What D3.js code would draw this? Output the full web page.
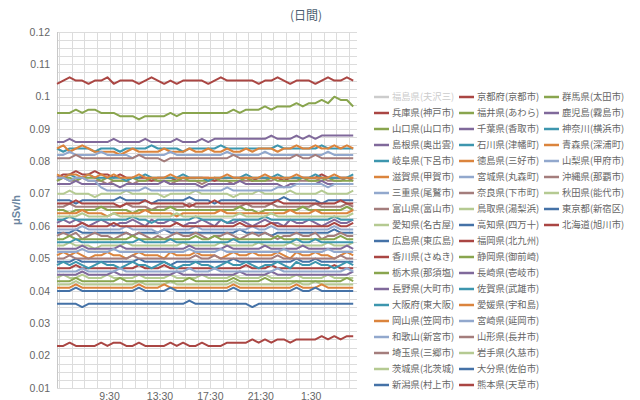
<!DOCTYPE html>
<html><head><meta charset="utf-8">
<script src="https://cdn.jsdelivr.net/npm/d3@7"></script>
<style>body{margin:0;background:#fff;}svg{display:block;}</style>
</head><body>
<svg id="chart" width="640" height="400"></svg>
<script>
// ---- text ----
const chartTitle = "(日間)";
const yAxisTitle = "μSv/h";
const xTickLabels = ["9:30", "13:30", "17:30", "21:30", "1:30"];
const xTickTimes = ["2012-01-01T09:30", "2012-01-01T13:30", "2012-01-01T17:30", "2012-01-01T21:30", "2012-01-02T01:30"];
const yTickValues = [0.01, 0.02, 0.03, 0.04, 0.05, 0.06, 0.07, 0.08, 0.09, 0.1, 0.11, 0.12];
const yTickLabels = ["0.01", "0.02", "0.03", "0.04", "0.05", "0.06", "0.07", "0.08", "0.09", "0.1", "0.11", "0.12"];
const firstSample = "2012-01-01T05:20";
const sampleStepMinutes = 30;

// ---- series names (legend order, column by column) ----
const seriesNames = [
  "福島県(夫沢三)", "兵庫県(神戸市)", "山口県(山口市)", "島根県(奥出雲)", "岐阜県(下呂市)", "滋賀県(甲賀市)", "三重県(尾鷲市)", "富山県(富山市)", "愛知県(名古屋)", "広島県(東広島)",
  "香川県(さぬき)", "栃木県(那須塩)", "長野県(大町市)", "大阪府(東大阪)", "岡山県(笠岡市)", "和歌山(新宮市)", "埼玉県(三郷市)", "茨城県(北茨城)", "新潟県(村上市)",
  "京都府(京都市)", "福井県(あわら)", "千葉県(香取市)", "石川県(津幡町)", "徳島県(三好市)", "宮城県(丸森町)", "奈良県(下市町)", "鳥取県(湯梨浜)", "高知県(四万十)", "福岡県(北九州)",
  "静岡県(御前崎)", "長崎県(壱岐市)", "佐賀県(武雄市)", "愛媛県(宇和島)", "宮崎県(延岡市)", "山形県(長井市)", "岩手県(久慈市)", "大分県(佐伯市)", "熊本県(天草市)",
  "群馬県(太田市)", "鹿児島(霧島市)", "神奈川(横浜市)", "青森県(深浦町)", "山梨県(甲府市)", "沖縄県(那覇市)", "秋田県(能代市)", "東京都(新宿区)", "北海道(旭川市)"
];
const hiddenSeries = ["福島県(夫沢三)"];
const legendRowsPerColumn = 19;

// ---- values, nSv/h (every 30 min) ----
const fukushima = [];
const hyogo = [104,105,106,105,105,104,105,105, 106,104,105,105,105,104,105,106, 105,104,105,104,105,105,105,105, 104,105,106,105,105,105,105,105, 104,105,105,106,105,104,105,105, 105,104,105,106,105,105,106,105];
const yamaguchi = [95,95,95,96,95,96,96,95, 95,95,94,94,94,93,94,94, 94,94,95,94,95,95,95,95, 95,95,95,95,96,95,96,96, 96,97,96,97,97,97,98,97, 98,98,99,98,100,99,99,97];
const shimane = [86,86,87,86,86,86,86,86, 86,87,86,86,86,86,87,86, 86,86,86,87,86,86,86,87, 86,87,87,87,87,87,87,87, 87,87,88,87,87,87,88,87, 88,87,88,88,88,88,88,88];
const gifu = [84,83,84,84,84,84,83,84, 84,84,83,84,84,84,84,85, 84,84,84,84,83,84,84,84, 84,84,85,84,84,84,84,84, 84,84,84,85,84,84,84,84, 84,84,85,84,84,84,84,84];
const shiga = [84,85,83,84,85,84,83,83, 83,83,82,83,84,83,83,83, 83,84,83,83,83,84,83,83, 84,83,83,84,83,83,84,83, 84,84,84,83,84,84,85,84, 84,85,84,84,85,84,85,84];
const mie = [82,82,83,82,82,82,82,83, 82,82,82,82,81,82,82,82, 82,82,83,82,82,82,82,82, 82,82,82,83,82,82,82,82, 82,83,82,82,82,82,82,82, 82,82,82,83,82,82,82,82];
const toyama = [74,75,74,74,75,74,74,74, 73,74,74,74,73,74,74,74, 74,74,73,74,74,74,74,73, 74,74,74,74,73,74,74,74, 74,74,74,75,74,74,74,74, 74,74,75,74,74,74,75,74];
const aichi = [70,70,71,70,70,70,69,70, 70,70,70,71,70,70,70,70, 70,69,70,70,70,70,71,70, 70,70,70,70,69,70,70,70, 71,70,70,70,70,71,70,70, 70,70,71,70,70,70,70,71];
const hiroshima = [68,68,68,67,68,68,68,68, 68,68,69,68,68,68,68,67, 68,68,68,68,68,69,68,68, 68,67,68,68,68,68,68,68, 68,68,68,68,69,68,68,68, 68,68,67,68,68,68,68,68];
const kagawa = [75,76,76,77,76,76,77,76, 76,75,76,75,75,75,75,74, 75,75,75,74,75,75,75,75, 75,74,75,75,75,75,75,74, 75,75,75,75,74,75,75,75, 75,75,76,75,75,75,75,75];
const tochigi = [74,75,75,74,75,75,75,74, 75,74,74,74,75,74,74,75, 74,74,74,74,75,74,74,74, 74,75,74,74,74,74,75,74, 74,74,75,74,74,74,74,75, 74,74,74,75,74,74,74,74];
const nagano = [73,73,73,74,73,73,73,73, 73,73,72,73,73,73,73,73, 73,74,73,73,73,73,73,72, 73,73,73,73,73,74,73,73, 73,73,73,73,72,73,73,73, 73,73,74,73,73,73,73,73];
const osaka = [75,75,76,75,75,76,75,75, 75,75,75,74,75,75,76,75, 75,75,75,75,76,75,75,75, 74,75,75,75,75,75,76,75, 75,75,75,76,75,75,75,75, 75,76,75,75,75,75,75,76];
const okayama = [76,75,76,76,75,76,75,76, 75,76,75,75,75,76,75,75, 75,75,76,75,75,75,75,75, 75,75,75,76,75,75,75,75, 75,76,75,75,75,75,76,75, 75,75,75,75,76,75,75,75];
const wakayama = [75,75,74,75,75,74,74,72, 71,71,71,71,71,71,72,71, 71,71,71,71,71,71,71,71, 71,71,71,72,71,71,71,71, 71,71,71,72,72,72,73,73, 73,73,73,72,73,73,73,73];
const saitama = [66,66,67,66,66,66,66,66, 66,66,66,67,66,66,66,65, 66,66,66,66,66,67,66,66, 66,66,66,66,66,66,67,66, 66,66,67,66,66,66,66,66, 66,67,66,66,66,66,67,66];
const ibaraki = [54,54,55,54,54,54,53,54, 54,54,54,55,54,54,54,54, 54,54,54,54,55,54,54,54, 54,54,55,54,54,54,54,54, 55,54,54,54,54,55,54,54, 54,54,54,55,54,54,54,55];
const niigata = [58,58,58,59,58,58,58,58, 58,58,58,58,57,58,58,58, 58,59,58,58,58,58,58,58, 58,58,58,58,58,59,58,58, 58,58,57,58,58,58,58,58, 58,58,58,58,59,58,58,58];
const kyoto = [67,67,67,68,67,67,67,67, 67,67,66,67,67,67,68,67, 67,67,67,67,67,66,67,67, 67,68,67,67,67,67,67,67, 67,67,67,68,67,67,67,67, 67,67,67,67,67,68,67,67];
const fukui = [65,65,64,65,65,65,65,66, 65,65,65,65,64,65,65,65, 65,65,66,65,65,65,65,65, 65,65,65,65,65,66,65,65, 64,65,65,65,65,65,65,66, 65,65,65,65,65,65,66,65];
const chiba = [61,62,61,62,61,60,61,62, 61,60,61,61,62,61,60,62, 61,61,62,61,60,61,61,62, 61,60,62,61,61,62,61,60, 61,62,61,61,60,62,61,61, 62,61,60,61,62,61,61,62];
const ishikawa = [62,62,63,62,62,62,62,62, 62,62,62,62,63,62,62,61, 62,62,62,62,62,62,63,62, 62,62,62,61,62,62,62,62, 62,63,62,62,62,62,62,62, 62,62,62,62,63,62,62,62];
const tokushima = [64,64,64,64,65,64,64,64, 63,64,64,64,64,64,65,64, 64,64,64,63,64,64,64,64, 64,64,65,64,64,64,64,64, 64,64,64,64,64,65,64,64, 64,65,64,64,64,64,64,65];
const miyagi = [59,59,59,59,60,59,59,59, 59,59,59,60,59,59,59,59, 58,59,59,59,59,59,60,59, 59,59,59,59,59,59,59,60, 59,59,60,59,59,59,59,59, 59,59,59,59,60,59,59,59];
const nara = [57,58,57,58,56,57,58,57, 57,56,57,58,57,58,57,56, 57,56,57,58,57,57,58,57, 56,57,57,58,57,56,57,58, 57,58,57,56,57,57,58,57, 57,58,56,57,57,58,57,57];
const tottori = [44,45,44,44,45,44,44,44, 45,44,44,44,44,45,44,44, 44,44,45,44,44,44,44,45, 44,44,44,44,45,44,44,44, 44,45,44,44,44,44,45,44, 44,44,44,45,44,44,44,44];
const kochi = [49,49,49,50,49,49,49,49, 49,49,49,49,49,50,49,49, 49,49,48,49,49,49,49,49, 49,49,49,49,50,49,49,49, 49,49,49,49,49,49,50,49, 49,50,49,49,49,49,49,49];
const fukuoka = [60,60,60,60,61,60,60,60, 60,61,60,60,60,60,60,60, 60,60,60,61,60,60,60,60, 60,60,60,60,60,61,60,60, 60,60,61,60,60,60,60,60, 60,60,60,60,61,60,60,61];
const shizuoka = [56,56,57,56,56,56,56,56, 56,56,56,56,57,56,56,56, 56,56,56,56,56,56,57,56, 56,57,56,56,56,56,56,56, 56,56,56,57,56,56,56,56, 56,56,56,56,56,57,56,56];
const nagasaki = [53,53,53,53,54,53,53,53, 53,53,54,53,53,53,53,53, 53,53,53,53,53,54,53,53, 53,53,53,54,53,53,53,53, 53,54,53,53,53,53,53,54, 53,53,53,53,53,53,54,53];
const saga = [55,55,55,56,55,55,55,55, 55,55,55,55,55,56,55,55, 55,55,56,55,55,55,55,55, 55,55,55,55,56,55,55,55, 55,55,55,55,55,55,56,55, 55,56,55,55,55,55,55,55];
const ehime = [51,52,51,52,51,50,51,51, 52,51,51,50,51,52,51,51, 51,50,52,51,51,51,52,51, 51,51,50,51,52,51,51,52, 51,51,51,52,51,50,52,51, 51,52,51,51,50,51,52,51];
const miyazaki = [52,52,52,52,53,52,52,52, 52,53,52,52,52,52,52,52, 52,52,52,52,52,53,52,52, 52,52,53,52,52,52,52,52, 52,52,52,52,53,52,52,52, 52,52,52,53,52,52,52,52];
const yamagata = [50,50,51,50,50,50,50,50, 50,50,50,50,51,50,50,50, 50,50,50,50,50,50,51,50, 50,51,50,50,50,50,50,50, 50,50,50,51,50,50,50,50, 50,50,50,50,50,51,50,50];
const iwate = [42,42,42,43,42,42,42,42, 42,42,42,42,42,43,42,42, 42,42,43,42,42,42,42,42, 42,42,42,42,43,42,42,42, 42,42,42,42,42,42,43,42, 42,43,42,42,42,42,42,42];
const oita = [36,36,36,36,35,36,36,36, 36,36,36,36,36,36,36,36, 36,36,36,36,36,37,36,36, 36,36,36,36,36,36,36,35, 36,36,36,36,36,36,36,36, 36,36,36,36,36,36,36,36];
const kumamoto = [47,47,47,48,47,47,47,47, 47,47,47,47,47,48,47,47, 47,48,47,47,47,47,47,47, 47,47,47,47,47,47,48,47, 47,47,48,47,47,47,47,47, 47,47,47,47,48,47,47,47];
const gunma = [43,43,43,44,43,43,43,43, 43,43,44,43,43,43,43,43, 43,43,43,43,43,44,43,43, 43,43,43,43,44,43,43,43, 43,44,43,43,43,43,43,43, 43,43,43,43,43,43,44,43];
const kagoshima = [45,45,45,45,46,45,45,45, 45,46,45,45,45,45,45,45, 45,45,45,46,45,45,45,45, 45,45,45,45,45,46,45,45, 45,45,46,45,45,45,45,45, 45,45,45,45,45,45,45,46];
const kanagawa = [48,49,48,49,48,47,48,49, 48,48,47,48,49,48,48,47, 48,49,48,47,48,48,49,48, 48,47,48,49,48,48,49,48, 47,48,48,49,48,47,49,48, 48,49,48,48,47,48,49,48];
const aomori = [41,41,41,42,41,41,41,41, 41,41,41,41,41,42,41,41, 41,42,41,41,41,41,41,41, 41,41,41,41,42,41,41,41, 41,41,41,41,41,41,42,41, 41,41,42,41,41,41,41,41];
const yamanashi = [46,46,46,46,47,46,46,46, 46,46,47,46,46,46,46,46, 46,46,46,46,46,47,46,46, 46,47,46,46,46,46,46,46, 46,46,46,47,46,46,46,46, 46,46,46,46,46,46,47,46];
const okinawa = [81,81,81,82,81,81,81,81, 81,81,81,81,81,82,81,81, 81,80,81,81,81,81,81,81, 81,81,81,81,82,81,81,81, 81,81,81,81,81,81,82,81, 81,82,81,81,81,81,81,81];
const akita = [63,63,63,63,64,63,63,63, 63,64,63,63,63,63,63,63, 63,63,63,64,63,63,63,63, 63,63,63,63,63,64,63,63, 63,63,64,63,63,63,63,63, 63,63,63,63,63,63,63,64];
const tokyo = [40,40,40,41,40,40,40,40, 40,40,40,40,40,41,40,40, 40,40,41,40,40,40,40,40, 40,40,40,40,41,40,40,40, 40,40,40,40,40,40,41,40, 40,41,40,40,40,40,40,40];
const hokkaido = [23,23,24,23,23,23,23,24, 23,24,24,23,23,24,23,23, 23,23,24,23,24,23,23,24, 23,23,23,24,24,24,24,25, 24,25,24,25,25,24,25,25, 25,25,26,25,26,25,26,26];

const seriesValues = [
  fukushima, hyogo, yamaguchi, shimane, gifu, shiga, mie, toyama, aichi, hiroshima,
  kagawa, tochigi, nagano, osaka, okayama, wakayama, saitama, ibaraki, niigata,
  kyoto, fukui, chiba, ishikawa, tokushima, miyagi, nara, tottori, kochi, fukuoka,
  shizuoka, nagasaki, saga, ehime, miyazaki, yamagata, iwate, oita, kumamoto,
  gunma, kagoshima, kanagawa, aomori, yamanashi, okinawa, akita, tokyo, hokkaido
];
const palette = ["#4572A7", "#AA4643", "#89A54E", "#80699B", "#3D96AE", "#DB843D", "#92A8CD", "#A47D7C", "#B5CA92"];

// ---- drawing ----
const svg = d3.select("#chart");
const plot = {left: 57, right: 357, top: 32, bottom: 388};
const parse = d3.timeParse("%Y-%m-%dT%H:%M");
const t0 = parse(firstSample);
const x = d3.scaleTime()
  .domain([parse("2012-01-01T05:20"), parse("2012-01-02T05:08")])
  .range([plot.left, plot.right]);
const y = d3.scaleLinear().domain([0.01, 0.12]).range([plot.bottom, plot.top]);

// grid
const grid = svg.append("g");
const minorY = d3.range(0, 45).map(i => 0.01 + i * 0.0025);
grid.selectAll("line.hy").data(minorY).join("line")
  .attr("x1", plot.left).attr("x2", plot.right)
  .attr("y1", d => Math.round(y(d)) + 0.5).attr("y2", d => Math.round(y(d)) + 0.5)
  .attr("stroke", "#dcdcdc").attr("stroke-width", 1);
const vTimes = d3.range(0, 24).map(h => d3.timeMinute.offset(parse("2012-01-01T05:30"), h * 60));
grid.selectAll("line.vx").data(vTimes).join("line")
  .attr("y1", plot.top).attr("y2", plot.bottom)
  .attr("x1", d => Math.round(x(d)) + 0.5).attr("x2", d => Math.round(x(d)) + 0.5)
  .attr("stroke", "#dcdcdc").attr("stroke-width", 1);
grid.append("line").attr("x1", plot.left + 0.5).attr("x2", plot.left + 0.5)
  .attr("y1", plot.top).attr("y2", plot.bottom).attr("stroke", "#c8c8c8");

// y labels
svg.append("g").selectAll("text").data(yTickValues).join("text")
  .attr("x", 50).attr("y", d => y(d)).attr("dy", "0.35em")
  .attr("text-anchor", "end")
  .attr("font-family", "Arial, 'Liberation Sans', sans-serif").attr("font-size", 10.5)
  .attr("fill", "#666")
  .text((d, i) => yTickLabels[i]);

// x labels
svg.append("g").selectAll("text").data(xTickTimes).join("text")
  .attr("x", d => x(parse(d))).attr("y", 399.5)
  .attr("text-anchor", "middle")
  .attr("font-family", "Arial, 'Liberation Sans', sans-serif").attr("font-size", 10.5)
  .attr("fill", "#666")
  .text((d, i) => xTickLabels[i]);

// titles
svg.append("text").attr("x", 306).attr("y", 19.5).attr("text-anchor", "middle")
  .attr("font-family", "'Noto Sans CJK JP', sans-serif").attr("font-size", 12)
  .attr("fill", "#4d5f72").text(chartTitle);
svg.append("text").attr("transform", "translate(20,210) rotate(-90)").attr("text-anchor", "middle")
  .attr("font-family", "Arial, 'Liberation Sans', sans-serif").attr("font-size", 11).attr("font-weight", "bold")
  .attr("fill", "#6D869F").text(yAxisTitle);

// lines
const line = d3.line()
  .x((d, i) => x(d3.timeMinute.offset(t0, i * sampleStepMinutes)))
  .y(d => y(d / 1000));
const seriesG = svg.append("g");
seriesNames.forEach((name, i) => {
  if (hiddenSeries.includes(name)) return;
  seriesG.append("path").datum(seriesValues[i])
    .attr("d", line).attr("fill", "none")
    .attr("stroke", palette[i % palette.length]).attr("stroke-width", 2)
    .attr("stroke-linejoin", "round");
});

// legend
const legend = svg.append("g");
seriesNames.forEach((name, i) => {
  const col = Math.floor(i / legendRowsPerColumn), row = i % legendRowsPerColumn;
  const lx = 374 + col * 85, ly = 97 + row * 16;
  const hidden = hiddenSeries.includes(name);
  const color = hidden ? "#cccccc" : palette[i % palette.length];
  legend.append("line").attr("x1", lx).attr("x2", lx + 15).attr("y1", ly).attr("y2", ly)
    .attr("stroke", color).attr("stroke-width", 2.5);
  legend.append("text").attr("x", lx + 18).attr("y", ly).attr("dy", "0.36em")
    .attr("font-family", "'Noto Sans CJK JP', sans-serif").attr("font-size", 9.3)
    .attr("fill", hidden ? "#cccccc" : "#666").text(name);
});
</script>
</body></html>
